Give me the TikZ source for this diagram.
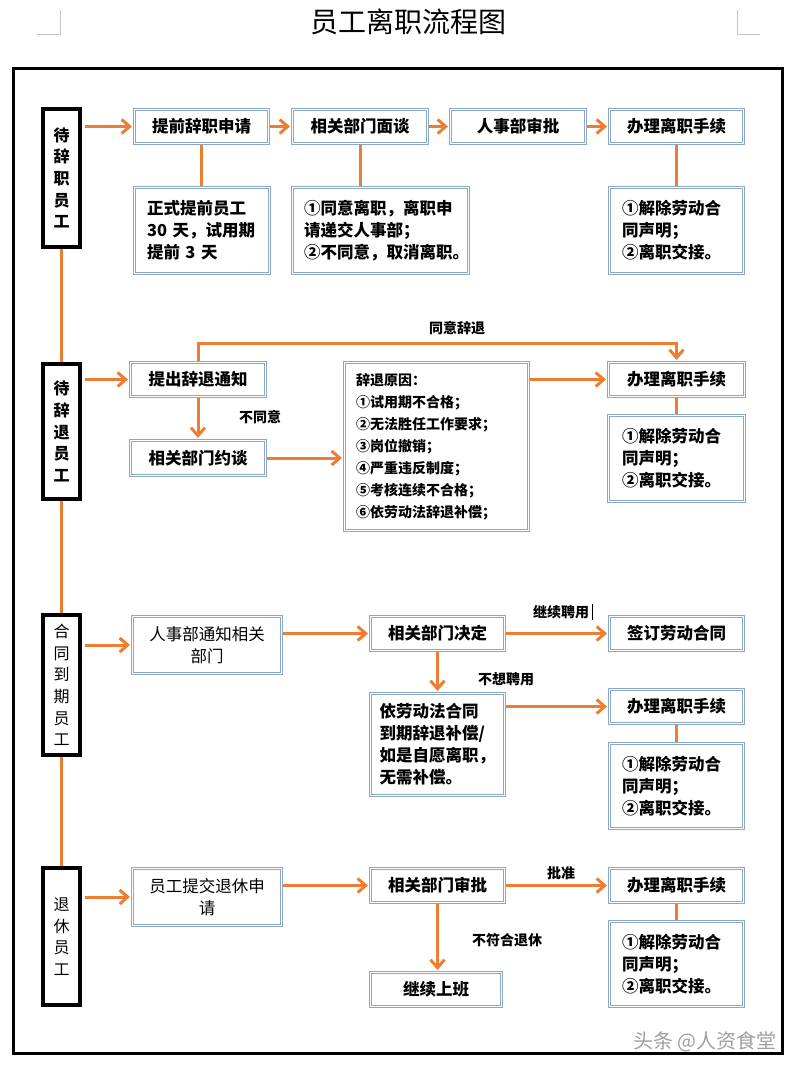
\documentclass[tikz,border=0pt]{standalone}
\usepackage{fontspec}
\setmainfont{Noto Sans CJK SC}
\usetikzlibrary{arrows.meta,backgrounds}
\definecolor{org}{RGB}{237,125,49}
\definecolor{bxb}{RGB}{141,167,201}
\begin{document}
\begin{tikzpicture}[x=1pt,y=-1pt,
  box/.style={draw=bxb, double=white, double distance=1.3pt, line width=1.1pt, fill=white, inner sep=0pt, font=\fontsize{16.5}{22}\selectfont\bfseries, align=center},
  sub/.style={box, align=left},
  side/.style={draw=black, line width=4pt, fill=white, inner sep=0pt, minimum width=37pt, font=\fontsize{16}{21.7}\selectfont\bfseries, align=center},
  link/.style={draw=org, line width=3pt},
  arr/.style={link, -{Straight Barb[length=8pt,width=14pt]}, shorten >=2pt},
  lab/.style={font=\fontsize{14}{16}\selectfont\bfseries, inner sep=0pt},
  cornermark/.style={draw=gray!45, line width=0.8pt}
]
\useasboundingbox (0,0) rectangle (797,1070);
% page corner marks
\draw[cornermark] (60,10) -- (60,34) -- (37,34);
\draw[cornermark] (737,10) -- (737,34) -- (760,34);
\node (title) at (408,22) {\fontsize{28}{28}\selectfont 员工离职流程图};
% frame
\draw[line width=3pt] (13,69) rectangle (782,1053);

% left category boxes
\node[side, minimum height=138pt] (L1) at (61.5,178) {待\\辞\\职\\员\\工};
\node[side, minimum height=135pt] (L2) at (61.5,431.5) {待\\辞\\退\\员\\工};
\node[side, minimum height=140pt, font=\fontsize{16}{21.7}\selectfont] (L3) at (61.5,685) {合\\同\\到\\期\\员\\工};
\node[side, minimum height=137pt, font=\fontsize{16}{21.5}\selectfont] (L4) at (61.5,936.5) {退\\休\\员\\工};

% row 1
\node[box, minimum width=134pt, minimum height=34pt] (A1) at (201.5,126.5) {提前辞职申请};
\node[box, minimum width=135pt, minimum height=34pt] (A2) at (360,126.5) {相关部门面谈};
\node[box, minimum width=135pt, minimum height=34pt] (A3) at (518,126.5) {人事部审批};
\node[box, minimum width=134pt, minimum height=34pt] (A4) at (676.5,126.5) {办理离职手续};
\node[sub, minimum width=135pt, minimum height=86pt, text width=110pt] (B1) at (202,230.5) {正式提前员工\\30 天，试用期\\提前 3 天};
\node[sub, minimum width=176pt, minimum height=86pt, text width=153pt] (B2) at (380.5,230.5) {①同意离职，离职申\\请递交人事部；\\②不同意，取消离职。};
\node[sub, minimum width=134pt, minimum height=86pt, text width=109pt] (B4) at (676.5,230.5) {①解除劳动合\\同声明；\\②离职交接。};

% row 2
\node[box, minimum width=135pt, minimum height=34pt] (C1) at (198,379.5) {提出辞退通知};
\node[box, minimum width=135pt, minimum height=35pt] (C2) at (198,458) {相关部门约谈};
\node[sub, minimum width=184pt, minimum height=168pt, text width=161pt, font=\fontsize{14}{22}\selectfont\bfseries] (C3) at (436.5,446.5) {辞退原因：\\①试用期不合格；\\②无法胜任工作要求；\\③岗位撤销；\\④严重违反制度；\\⑤考核连续不合格；\\⑥依劳动法辞退补偿；};
\node[box, minimum width=136pt, minimum height=34pt] (C4) at (676.5,379.5) {办理离职手续};
\node[sub, minimum width=136pt, minimum height=86pt, text width=109pt] (C5) at (676.5,458.5) {①解除劳动合\\同声明；\\②离职交接。};

% row 3
\node[box, minimum width=149pt, minimum height=57pt, font=\fontsize{16.5}{22}\selectfont] (D1) at (207,645) {人事部通知相关\\部门};
\node[box, minimum width=134pt, minimum height=34pt] (D2) at (437.5,633.5) {相关部门决定};
\node[box, minimum width=134pt, minimum height=34pt] (D3) at (676.5,633.5) {签订劳动合同};
\node[sub, minimum width=134pt, minimum height=102pt, text width=116pt] (D4) at (437.5,744.5) {依劳动法合同\\到期辞退补偿/\\如是自愿离职，\\无需补偿。};
\node[box, minimum width=134pt, minimum height=34pt] (D5) at (676.5,706.5) {办理离职手续};
\node[sub, minimum width=134pt, minimum height=85pt, text width=109pt] (D6) at (676.5,786) {①解除劳动合\\同声明；\\②离职交接。};

% row 4
\node[box, minimum width=149pt, minimum height=57pt, font=\fontsize{16.5}{22}\selectfont] (E1) at (207,897) {员工提交退休申\\请};
\node[box, minimum width=134pt, minimum height=34pt] (E2) at (437.5,885.5) {相关部门审批};
\node[box, minimum width=131pt, minimum height=34pt] (E3) at (436,989.5) {继续上班};
\node[box, minimum width=134pt, minimum height=34pt] (E4) at (676.5,885.5) {办理离职手续};
\node[sub, minimum width=134pt, minimum height=85pt, text width=109pt] (E5) at (676.5,964) {①解除劳动合\\同声明；\\②离职交接。};

% labels
\node[lab] (t1) at (457,328) {同意辞退};
\node[lab] (t2) at (260,417) {不同意};
\node[lab] (t3) at (561,612) {继续聘用};
\node[lab] (t4) at (506,679) {不想聘用};
\node[lab] (t5) at (561,873) {批准};
\node[lab] (t6) at (507,940) {不符合退休};
\coordinate (cur) at (592,604);
\draw[line width=1pt] (cur) -- ++(0,16);

\node[text=gray!75, font=\fontsize{20}{20}\selectfont] (wm) at (705,1042) {头条 @人资食堂};

\begin{scope}[on background layer]
% spine
\draw[link] (L1) -- (L2);
\draw[link] (L2) -- (L3);
\draw[link] (L3) -- (L4);
% row 1
\draw[arr, shorten <=3pt] (L1.east |- A1.west) -- (A1.west);
\draw[arr] (A1) -- (A2);
\draw[arr] (A2) -- (A3);
\draw[arr] (A3) -- (A4);
\draw[link] (A1.south) -- (A1.south |- B1.north);
\draw[link] (A2.south) -- (A2.south |- B2.north);
\draw[link] (A4.south) -- (A4.south |- B4.north);
% row 2
\draw[arr, shorten <=3pt] (L2.east |- C1.west) -- (C1.west);
\draw[arr] (C1.north) -- ++(0,-18) -| (C4.north);
\draw[arr] (C1) -- (C2);
\draw[arr] (C2.east) -- (C2.east -| C3.west);
\draw[arr] (C3.east |- C4.west) -- (C4.west);
\draw[link] (C4) -- (C5);
% row 3
\draw[arr, shorten <=3pt] (L3.east |- D1.west) -- (D1.west);
\draw[arr] (D1.east |- D2.west) -- (D2.west);
\draw[arr] (D2) -- (D3);
\draw[arr] (D2) -- (D4);
\draw[arr] (D4.east |- D5.west) -- (D5.west);
\draw[link] (D5) -- (D6);
% row 4
\draw[arr, shorten <=3pt] (L4.east |- E1.west) -- (E1.west);
\draw[arr] (E1.east |- E2.west) -- (E2.west);
\draw[arr] (E2) -- (E4);
\draw[arr] (E2.south) -- (E2.south |- E3.north);
\draw[link] (E4) -- (E5);
\end{scope}
\end{tikzpicture}
\end{document}
